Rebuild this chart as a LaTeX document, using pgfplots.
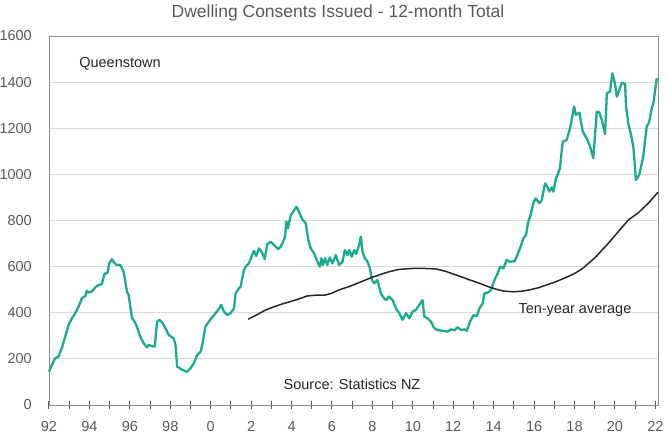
\documentclass[border=0pt]{standalone}
\usepackage{fontspec}
\setmainfont{Liberation Sans}
\usepackage{pgfplots}
\pgfplotsset{compat=1.18}

\definecolor{consents}{HTML}{1AAB8C}
\definecolor{avgline}{HTML}{262626}
\definecolor{txtgrey}{HTML}{595959}
\definecolor{gridgrey}{HTML}{D9D9D9}
\definecolor{boxgrey}{HTML}{8C8C8C}

\newcommand{\chartfont}{\fontsize{14.5bp}{17bp}\selectfont}

\begin{document}
\begin{tikzpicture}
\useasboundingbox (-49bp,-33bp) rectangle (619bp,405bp);
\begin{axis}[
    at={(0,0)}, anchor=south west,
    scale only axis,
    width=609bp, height=369bp,
    xmin=1992, xmax=2022.13,
    ymin=0, ymax=1600,
    ytick={0,200,...,1600},
    ymajorgrids,
    grid style={draw=gridgrey, line width=0.8bp},
    xtick={1992,1994,...,2022},
    xticklabels={92,94,96,98,0,2,4,6,8,10,12,14,16,18,20,22},
    minor xtick={1993,1995,...,2021},
    xtick pos=bottom,
    tick align=center,
    major tick length=8bp, minor tick length=8bp,
    tick style={draw=txtgrey, line width=1bp},
    minor tick style={draw=txtgrey, line width=1bp},
    ytick style={draw=none},
    axis line style={draw=boxgrey, line width=0.9bp},
    /pgf/number format/assume math mode=true,
    scaled y ticks=false,
    yticklabel style={/pgf/number format/1000 sep={}},
    ticklabel style={font=\chartfont, text=txtgrey},
    yticklabel style={anchor=east, inner sep=0pt, xshift=-13bp},
    xticklabel style={anchor=north, inner sep=0pt, yshift=-12bp},
    clip=false,
]
% 12-month total, Queenstown
\addplot[consents, line width=2.3bp, line join=round] coordinates {
(1992.00,144) (1992.14,173) (1992.30,202) (1992.47,210) (1992.63,246)
(1992.80,296) (1992.97,347) (1993.13,376) (1993.30,398) (1993.46,426)
(1993.63,463) (1993.80,473) (1993.87,496) (1993.95,488) (1994.12,492)
(1994.29,510) (1994.45,520) (1994.62,525) (1994.74,568) (1994.90,574)
(1994.98,614) (1995.11,632) (1995.25,614) (1995.36,607) (1995.53,607)
(1995.69,578) (1995.86,491) (1995.94,477) (1996.10,380) (1996.32,347)
(1996.52,296) (1996.69,267) (1996.85,250) (1996.93,260) (1997.23,253)
(1997.35,361) (1997.46,369) (1997.63,354) (1997.76,333) (1997.92,304)
(1998.17,289) (1998.26,260) (1998.34,166) (1998.42,163) (1998.59,152)
(1998.83,144) (1999.00,159) (1999.16,180) (1999.33,217) (1999.50,231)
(1999.60,267) (1999.74,340) (1999.90,361) (2000.07,380) (2000.24,398)
(2000.40,415) (2000.52,434) (2000.65,405) (2000.82,390) (2000.98,398)
(2001.15,419) (2001.23,484) (2001.40,506) (2001.48,513) (2001.64,585)
(2001.73,600) (2001.89,614) (2002.02,643) (2002.14,669) (2002.25,646)
(2002.39,679) (2002.55,660) (2002.67,632) (2002.80,698) (2002.97,708)
(2003.13,694) (2003.33,676) (2003.46,686) (2003.58,708) (2003.68,730)
(2003.74,795) (2003.82,766) (2003.96,824) (2004.12,843) (2004.24,860)
(2004.37,838) (2004.53,805) (2004.70,788) (2004.83,716) (2004.95,679)
(2005.11,658) (2005.28,621) (2005.40,600) (2005.48,636) (2005.56,607)
(2005.66,636) (2005.77,607) (2005.89,640) (2006.02,614) (2006.19,650)
(2006.35,607) (2006.52,621) (2006.64,672) (2006.77,650) (2006.85,672)
(2006.98,643) (2007.10,672) (2007.20,655) (2007.34,694) (2007.43,730)
(2007.51,665) (2007.63,636) (2007.76,621) (2007.88,592) (2007.98,542)
(2008.09,528) (2008.25,542) (2008.42,484) (2008.58,462) (2008.67,455)
(2008.83,470) (2009.00,455) (2009.16,419) (2009.33,398) (2009.49,369)
(2009.66,398) (2009.82,376) (2009.99,405) (2010.15,412) (2010.32,434)
(2010.48,455) (2010.57,383) (2010.73,376) (2010.90,361) (2011.06,333)
(2011.23,325) (2011.47,322) (2011.72,318) (2011.89,328) (2012.05,324)
(2012.22,337) (2012.39,325) (2012.55,328) (2012.67,322) (2012.83,361)
(2013.00,390) (2013.16,386) (2013.30,419) (2013.46,441) (2013.54,484)
(2013.71,487) (2013.87,499) (2014.04,542) (2014.20,571) (2014.32,600)
(2014.49,593) (2014.64,629) (2014.81,621) (2015.05,624) (2015.14,643)
(2015.30,679) (2015.47,723) (2015.60,737) (2015.71,795) (2015.83,824)
(2015.96,875) (2016.08,896) (2016.26,875) (2016.38,889) (2016.54,961)
(2016.65,947) (2016.75,925) (2016.87,944) (2016.95,925) (2017.09,983)
(2017.28,1026) (2017.37,1106) (2017.42,1142) (2017.61,1149) (2017.78,1200)
(2017.98,1294) (2018.07,1258) (2018.24,1268) (2018.41,1185) (2018.60,1157)
(2018.77,1120) (2018.93,1070) (2019.10,1272) (2019.23,1268) (2019.35,1236)
(2019.51,1175) (2019.60,1352) (2019.76,1359) (2019.87,1438) (2020.00,1395)
(2020.09,1337) (2020.22,1366) (2020.34,1398) (2020.50,1392) (2020.55,1294)
(2020.66,1221) (2020.78,1178) (2020.91,1120) (2021.04,976) (2021.20,997)
(2021.40,1077) (2021.57,1207) (2021.70,1229) (2021.82,1287) (2021.90,1308)
(2022.07,1417)
};
% ten-year average
\addplot[avgline, line width=1.5bp, line join=round] coordinates {
(2001.85,372) (2002.30,392) (2002.72,412) (2003.10,425) (2003.54,438)
(2004.00,450) (2004.37,460) (2004.78,473) (2005.20,476) (2005.69,477)
(2006.00,485) (2006.35,499) (2006.80,512) (2007.18,525) (2007.60,540)
(2008.00,554) (2008.33,564) (2008.83,578) (2009.32,588) (2009.99,592)
(2010.60,592) (2011.15,590) (2011.60,580) (2012.14,564) (2012.70,546)
(2013.29,528) (2013.70,514) (2014.12,502) (2014.50,494) (2014.94,491)
(2015.35,493) (2015.77,499) (2016.20,508) (2016.60,520) (2017.00,532)
(2017.50,550) (2018.00,570) (2018.40,592) (2019.00,638) (2019.60,694)
(2020.17,752) (2020.66,802) (2021.16,834) (2021.65,875) (2022.12,922)
};
\node[anchor=west, inner sep=0pt, font=\chartfont, text=avgline] at (axis cs:1993.49,1479) {Queenstown};
\node[inner sep=0pt, font=\chartfont, text=avgline] at (axis cs:2006.99,91) {Source: Statistics NZ};
\node[inner sep=0pt, font=\chartfont, text=avgline] at (axis cs:2018.02,412) {Ten-year average};
\end{axis}
\node[inner sep=0pt, font=\fontsize{17.5bp}{20bp}\selectfont, text=txtgrey] at (289bp,392bp) {Dwelling Consents Issued - 12-month Total};
\end{tikzpicture}
\end{document}
